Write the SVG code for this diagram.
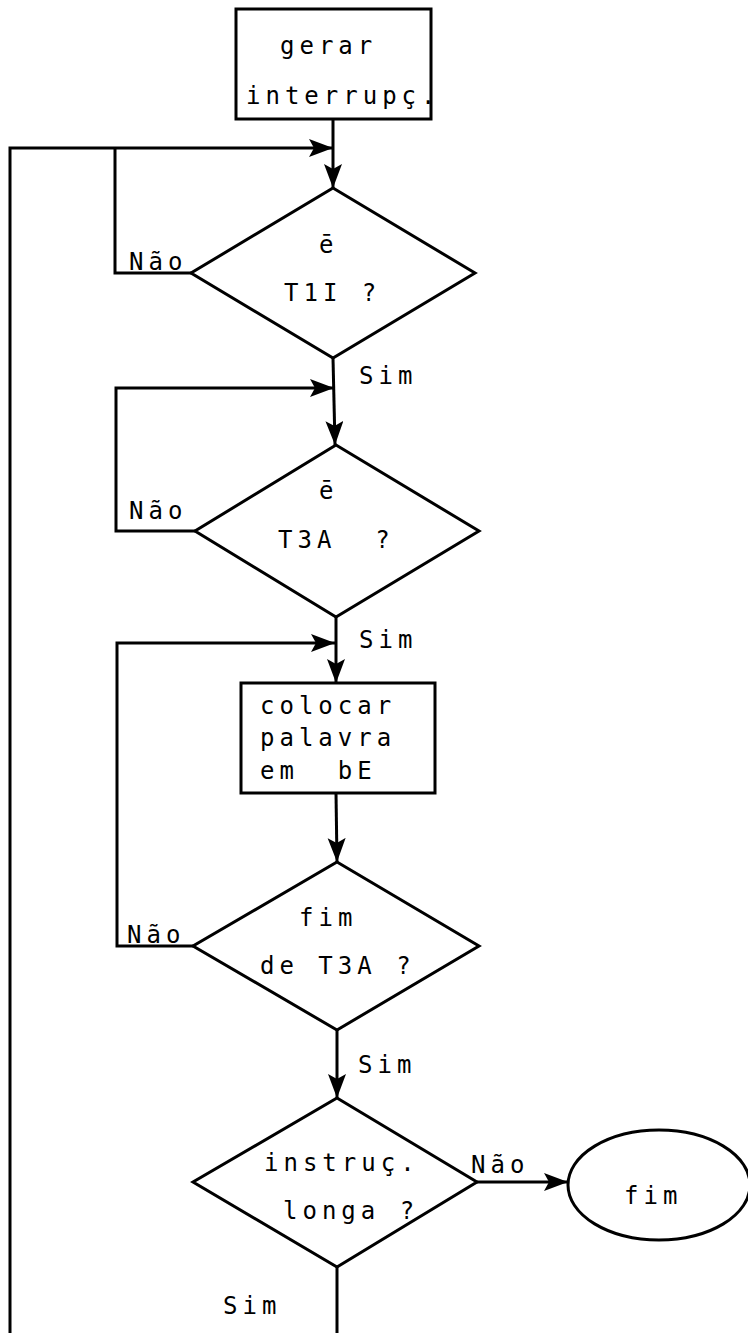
<svg xmlns="http://www.w3.org/2000/svg" width="748" height="1333" viewBox="0 0 748 1333">
<defs>
<style>
.s{fill:#fff;stroke:#000;stroke-width:3}
.c{fill:none;stroke:#000;stroke-width:3}
text{font-family:"DejaVu Sans Mono","Liberation Mono",monospace;font-size:24px;letter-spacing:5px;fill:#000}
</style>
<marker id="ah" markerUnits="userSpaceOnUse" markerWidth="26" markerHeight="20" refX="24" refY="9" orient="auto">
<path d="M0,0 L24,9 L0,18 L5,9 Z" fill="#000"/>
</marker>
</defs>
<rect width="748" height="1333" fill="#fff"/>
<g id="connectors">
<path class="c" d="M10,1333 V148 H333" marker-end="url(#ah)"/>
<path class="c" d="M191,273 H115 V148"/>
<path class="c" d="M333,119 V188" marker-end="url(#ah)"/>
<path class="c" d="M333,358 L335,445" marker-end="url(#ah)"/>
<path class="c" d="M195,531 H116 V388 H334" marker-end="url(#ah)"/>
<path class="c" d="M336,617 V683" marker-end="url(#ah)"/>
<path class="c" d="M193,946 H117 V643 H335" marker-end="url(#ah)"/>
<path class="c" d="M336,793 L337,862" marker-end="url(#ah)"/>
<path class="c" d="M337,1030 V1098" marker-end="url(#ah)"/>
<path class="c" d="M477,1182 H568" marker-end="url(#ah)"/>
<path class="c" d="M337,1267 V1333"/>
<text x="129" y="270">Não</text>
<text x="359" y="384">Sim</text>
<text x="129" y="519">Não</text>
<text x="359" y="648">Sim</text>
<text x="127" y="943">Não</text>
<text x="358" y="1073">Sim</text>
<text x="471" y="1173">Não</text>
<text x="223" y="1314">Sim</text>
</g>
<g id="start">
<rect class="s" x="236" y="9" width="195" height="110"/>
<text x="280" y="54">gerar</text>
<text x="246" y="104">interrupç.</text>
</g>
<g id="d1">
<polygon class="s" points="333,188 475,273 333,358 191,273"/>
<text x="319" y="253">ē</text>
<text x="284" y="301">T1I ?</text>
</g>
<g id="d2">
<polygon class="s" points="336,445 479,531 336,617 195,531"/>
<text x="319" y="499">ē</text>
<text x="278" y="548" xml:space="preserve">T3A  ?</text>
</g>
<g id="box2">
<rect class="s" x="241" y="683" width="194" height="110"/>
<text x="260" y="714">colocar</text>
<text x="260" y="746">palavra</text>
<text x="260" y="779" xml:space="preserve">em  bE</text>
</g>
<g id="d3">
<polygon class="s" points="337,862 479,946 337,1030 193,946"/>
<text x="299" y="926">fim</text>
<text x="260" y="974">de T3A ?</text>
</g>
<g id="d4">
<polygon class="s" points="337,1098 477,1182 337,1267 193,1182"/>
<text x="264" y="1171">instruç.</text>
<text x="283" y="1219">longa ?</text>
</g>
<g id="end">
<ellipse class="s" cx="659" cy="1185" rx="91" ry="55"/>
<text x="624" y="1204">fim</text>
</g>
</svg>
